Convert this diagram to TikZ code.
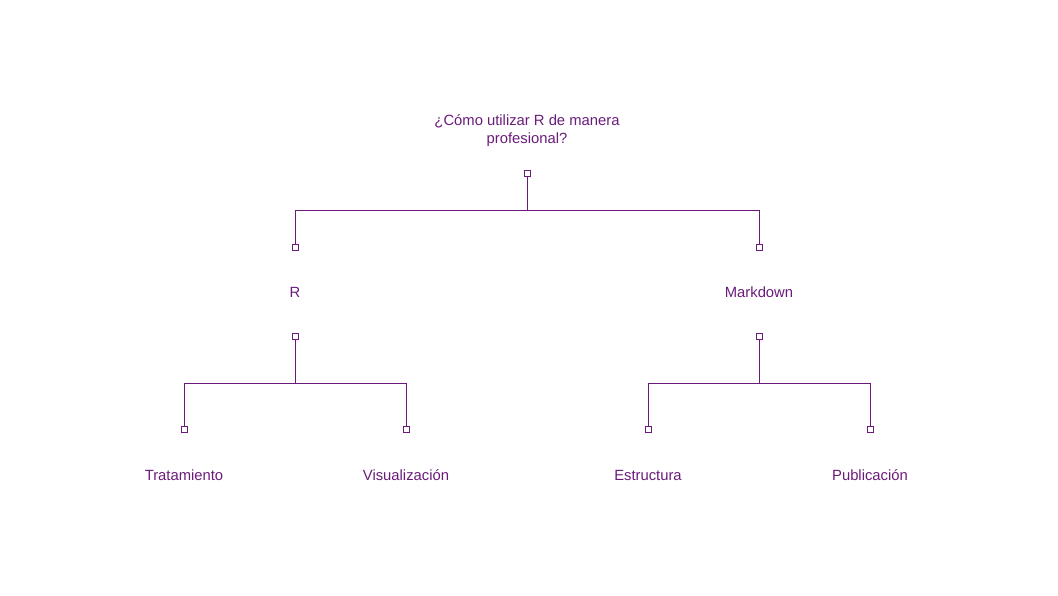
\documentclass[tikz,border=0pt]{standalone}
\usepackage{fontspec}
\setmainfont{Liberation Sans}
\definecolor{tp}{RGB}{106,27,122}
\begin{document}
\begin{tikzpicture}[x=1pt,y=-1pt,
  lbl/.style={text=tp,font=\fontsize{14.8}{18}\selectfont,inner sep=0pt,align=center},
  one/.style={lbl,text height=10.5pt,text depth=3pt},
  port/.style={draw=tp,line width=1pt,minimum size=6pt,inner sep=0pt,fill=white},
  link/.style={draw=tp,line width=1pt}]
\useasboundingbox (0,0) rectangle (1058,595);
\node[lbl] (root) at (527,131) {¿Cómo utilizar R de manera\\profesional?};
\node[one] (r) at (295,294) {R};
\node[one] (md) at (759,294) {Markdown};
\node[one] (tr) at (184,477) {Tratamiento};
\node[one] (vi) at (406,477) {Visualización};
\node[one] (es) at (648,477) {Estructura};
\node[one] (pu) at (870,477) {Publicación};
\node[port] (rootout) at (527,173) {};
\node[port] (rin) at (295,247) {};
\node[port] (mdin) at (759,247) {};
\node[port] (rout) at (295,336) {};
\node[port] (mdout) at (759,336) {};
\node[port] (trin) at (184,429) {};
\node[port] (viin) at (406,429) {};
\node[port] (esin) at (648,429) {};
\node[port] (puin) at (870,429) {};
\coordinate (b1) at (527,210);
\coordinate (b2) at (295,383);
\coordinate (b3) at (759,383);
\draw[link] (rootout.south) -- (b1);
\draw[link] (b1) -| (rin.north);
\draw[link] (b1) -| (mdin.north);
\draw[link] (rout.south) -- (b2);
\draw[link] (b2) -| (trin.north);
\draw[link] (b2) -| (viin.north);
\draw[link] (mdout.south) -- (b3);
\draw[link] (b3) -| (esin.north);
\draw[link] (b3) -| (puin.north);
\end{tikzpicture}
\end{document}
